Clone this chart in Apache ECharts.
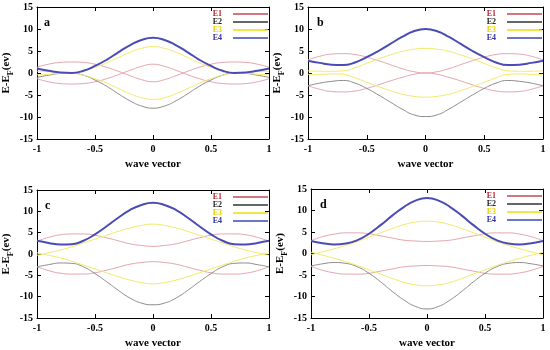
<!DOCTYPE html>
<html>
<head>
<meta charset="utf-8">
<script src="https://cdn.jsdelivr.net/npm/echarts@6/dist/echarts.min.js"></script>
<style>html,body{margin:0;padding:0;background:#fff}#c{width:550px;height:350px}</style>
</head>
<body>
<div id="c"></div>
<script>
// wave vector sample points
var kValues = [-1,-0.9,-0.8,-0.7,-0.6,-0.5,-0.4,-0.3,-0.2,-0.1,0,0.1,0.2,0.3,0.4,0.5,0.6,0.7,0.8,0.9,1];
var xTicks = ['-1','-0.5','0','0.5','1'];
var yTicks = ['-15','-10','-5','0','5','10','15'];
var panelLabels = ['a','b','c','d'];
var bandNames = ['E1','E2','E3','E4'];

// Panel a
var aE1p = [1.3,2.0,2.4,2.5,2.4,2.0,1.3,0.4,-0.6,-1.5,-2.0,-1.5,-0.6,0.4,1.3,2.0,2.4,2.5,2.4,2.0,1.3];
var aE1n = [-1.3,-2.0,-2.4,-2.5,-2.4,-2.0,-1.3,-0.4,0.6,1.5,2.0,1.5,0.6,-0.4,-1.3,-2.0,-2.4,-2.5,-2.4,-2.0,-1.3];
var aE2 = [-1.0,-0.5,-0.1,0.0,-0.5,-1.6,-3.0,-4.7,-6.3,-7.5,-8.0,-7.5,-6.3,-4.7,-3.0,-1.6,-0.5,0.0,-0.1,-0.5,-1.0];
var aE3p = [0.4,0.3,0.1,0.1,0.5,1.3,2.3,3.5,4.7,5.6,6.0,5.6,4.7,3.5,2.3,1.3,0.5,0.1,0.1,0.3,0.4];
var aE3n = [-0.4,-0.3,-0.1,-0.1,-0.5,-1.3,-2.3,-3.5,-4.7,-5.6,-6.0,-5.6,-4.7,-3.5,-2.3,-1.3,-0.5,-0.1,-0.1,-0.3,-0.4];
var aE4 = [1.0,0.5,0.1,0.0,0.5,1.6,3.0,4.7,6.3,7.5,8.0,7.5,6.3,4.7,3.0,1.6,0.5,0.0,0.1,0.5,1.0];

// Panel b
var bE1p = [3.0,3.8,4.3,4.4,4.2,3.6,2.8,1.9,1.0,0.3,0.0,0.3,1.0,1.9,2.8,3.6,4.2,4.4,4.3,3.8,3.0];
var bE1n = [-2.9,-3.7,-4.2,-4.3,-4.1,-3.5,-2.7,-1.8,-1.0,-0.3,0.0,-0.3,-1.0,-1.8,-2.7,-3.5,-4.1,-4.3,-4.2,-3.7,-2.9];
var bE2 = [-2.9,-2.3,-1.9,-1.7,-2.3,-3.5,-5.0,-6.6,-8.2,-9.5,-9.9,-9.5,-8.2,-6.6,-5.0,-3.5,-2.3,-1.7,-1.9,-2.3,-2.9];
var bE3p = [0.5,0.4,0.4,0.5,1.2,2.2,3.2,4.1,4.9,5.4,5.6,5.4,4.9,4.1,3.2,2.2,1.2,0.5,0.4,0.4,0.5];
var bE3n = [-0.3,-0.3,-0.2,-0.3,-1.1,-2.1,-3.1,-4.0,-4.8,-5.3,-5.5,-5.3,-4.8,-4.0,-3.1,-2.1,-1.1,-0.3,-0.2,-0.3,-0.3];
var bE4 = [2.8,2.3,1.9,1.8,2.4,3.6,5.0,6.6,8.2,9.5,10.0,9.5,8.2,6.6,5.0,3.6,2.4,1.8,1.9,2.3,2.8];

// Panel c
var cE1p = [3.0,3.9,4.5,4.7,4.7,4.4,3.8,3.1,2.4,2.0,1.8,2.0,2.4,3.1,3.8,4.4,4.7,4.7,4.5,3.9,3.0];
var cE1n = [-3.0,-3.9,-4.5,-4.7,-4.7,-4.4,-3.8,-3.1,-2.4,-2.0,-1.8,-2.0,-2.4,-3.1,-3.8,-4.4,-4.7,-4.7,-4.5,-3.9,-3.0];
var cE2 = [-3.0,-2.5,-2.1,-2.2,-3.0,-4.6,-6.5,-8.5,-10.3,-11.5,-11.9,-11.5,-10.3,-8.5,-6.5,-4.6,-3.0,-2.2,-2.1,-2.5,-3.0];
var cE3p = [-0.3,0.3,0.9,1.7,2.6,3.5,4.4,5.3,6.1,6.7,7.0,6.7,6.1,5.3,4.4,3.5,2.6,1.7,0.9,0.3,-0.3];
var cE3n = [0.3,-0.3,-0.9,-1.7,-2.6,-3.5,-4.4,-5.3,-6.1,-6.7,-7.0,-6.7,-6.1,-5.3,-4.4,-3.5,-2.6,-1.7,-0.9,-0.3,0.3];
var cE4 = [3.1,2.6,2.2,2.3,3.1,4.6,6.5,8.5,10.3,11.5,12.0,11.5,10.3,8.5,6.5,4.6,3.1,2.3,2.2,2.6,3.1];

// Panel d
var dE1p = [3.0,3.9,4.5,4.8,4.8,4.6,4.1,3.6,3.1,2.9,2.8,2.9,3.1,3.6,4.1,4.6,4.8,4.8,4.5,3.9,3.0];
var dE1n = [-3.0,-3.9,-4.5,-4.8,-4.8,-4.6,-4.1,-3.6,-3.1,-2.9,-2.8,-2.9,-3.1,-3.6,-4.1,-4.6,-4.8,-4.8,-4.5,-3.9,-3.0];
var dE2 = [-2.9,-2.4,-2.1,-2.3,-3.1,-4.6,-6.6,-8.8,-10.8,-12.3,-12.9,-12.3,-10.8,-8.8,-6.6,-4.6,-3.1,-2.3,-2.1,-2.4,-2.9];
var dE3p = [-0.3,0.4,1.1,1.9,2.8,3.8,4.8,5.8,6.7,7.3,7.5,7.3,6.7,5.8,4.8,3.8,2.8,1.9,1.1,0.4,-0.3];
var dE3n = [0.3,-0.4,-1.1,-1.9,-2.8,-3.8,-4.8,-5.8,-6.7,-7.3,-7.5,-7.3,-6.7,-5.8,-4.8,-3.8,-2.8,-1.9,-1.1,-0.4,0.3];
var dE4 = [2.9,2.4,2.1,2.3,3.1,4.6,6.6,8.8,10.8,12.3,12.9,12.3,10.8,8.8,6.6,4.6,3.1,2.3,2.1,2.4,2.9];

var panels = [
  {E1: [aE1p, aE1n], E2: [aE2], E3: [aE3p, aE3n], E4: [aE4]},
  {E1: [bE1p, bE1n], E2: [bE2], E3: [bE3p, bE3n], E4: [bE4]},
  {E1: [cE1p, cE1n], E2: [cE2], E3: [cE3p, cE3n], E4: [cE4]},
  {E1: [dE1p, dE1n], E2: [dE2], E3: [dE3p, dE3n], E4: [dE4]}
];

var grids = [
  {left: 35, top: 7, width: 234, height: 132},
  {left: 308, top: 7, width: 235, height: 132},
  {left: 36, top: 190, width: 233, height: 131},
  {left: 311, top: 189, width: 232, height: 131}
];

var lineColors = {E1: '#e4a6ae', E2: '#8c8c8c', E3: '#f2ea6a', E4: '#4a4cb4'};
var lineWidths = {E1: 1, E2: 1, E3: 1, E4: 2};
var legendColors = {E1: '#c04a58', E2: '#333333', E3: '#eedc10', E4: '#3d48b0'};
var legendTextColors = {E1: '#b02830', E2: '#222222', E3: '#e8d000', E4: '#3030a0'};
var font = 'Liberation Serif, DejaVu Serif, serif';

var option = {
  animation: false,
  backgroundColor: '#ffffff',
  grid: [], xAxis: [], yAxis: [], series: [], legend: [], title: []
};

grids.forEach(function (g, i) {
  option.grid.push(g);
  // bottom axis
  option.xAxis.push({
    type: 'value', gridIndex: i, min: -1, max: 1, interval: 0.5, position: 'bottom',
    name: 'wave vector', nameLocation: 'middle', nameGap: 20,
    nameTextStyle: {fontFamily: font, fontWeight: 'bold', fontSize: 11, color: '#000'},
    axisLine: {show: true, onZero: false, lineStyle: {color: '#000', width: 1}},
    axisTick: {show: true, inside: true, length: 4, lineStyle: {color: '#000'}},
    axisLabel: {fontFamily: font, fontWeight: 'bold', fontSize: 10, color: '#000', margin: 5,
      formatter: function (v) { var s = String(Math.round(v * 10) / 10); return xTicks.indexOf(s) >= 0 ? s : ''; }},
    splitLine: {show: false}
  });
  // top axis (frame)
  option.xAxis.push({
    type: 'value', gridIndex: i, min: -1, max: 1, interval: 0.5, position: 'top',
    axisLine: {show: true, onZero: false, lineStyle: {color: '#000', width: 1}},
    axisTick: {show: true, inside: true, length: 4, lineStyle: {color: '#000'}},
    axisLabel: {show: false}, splitLine: {show: false}
  });
  // left axis
  option.yAxis.push({
    type: 'value', gridIndex: i, min: -15, max: 15, interval: 5, position: 'left',
    name: 'E-E{sub|F}(ev)', nameLocation: 'middle', nameGap: 22, nameRotate: 90,
    nameTextStyle: {fontFamily: font, fontWeight: 'bold', fontSize: 11, color: '#000',
      rich: {sub: {fontFamily: font, fontWeight: 'bold', fontSize: 8, color: '#000', padding: [9, 0, 0, 0]}}},
    axisLine: {show: true, onZero: false, lineStyle: {color: '#000', width: 1}},
    axisTick: {show: true, inside: true, length: 4, lineStyle: {color: '#000'}},
    axisLabel: {fontFamily: font, fontWeight: 'bold', fontSize: 10, color: '#000', margin: 4,
      formatter: function (v) { var s = String(v); return yTicks.indexOf(s) >= 0 ? s : ''; }},
    splitLine: {show: false}
  });
  // right axis (frame)
  option.yAxis.push({
    type: 'value', gridIndex: i, min: -15, max: 15, interval: 5, position: 'right',
    axisLine: {show: true, onZero: false, lineStyle: {color: '#000', width: 1}},
    axisTick: {show: true, inside: true, length: 4, lineStyle: {color: '#000'}},
    axisLabel: {show: false}, splitLine: {show: false}
  });

  var order = ['E1', 'E2', 'E3', 'E4'];
  order.forEach(function (band) {
    panels[i][band].forEach(function (arr) {
      option.series.push({
        type: 'line', name: band, xAxisIndex: 2 * i, yAxisIndex: 2 * i,
        data: kValues.map(function (k, j) { return [k, arr[j]]; }),
        smooth: 0.5, showSymbol: false, symbol: 'none',
        lineStyle: {color: lineColors[band], width: lineWidths[band]},
        itemStyle: {color: lineColors[band]},
        z: band === 'E4' ? 5 : 3
      });
    });
  });

  option.title.push({
    text: panelLabels[i], left: g.left + 4, top: g.top + 5,
    textStyle: {fontFamily: font, fontWeight: 'bold', fontSize: 12, color: '#000'}
  });

  option.legend.push({
    orient: 'vertical', align: 'right',
    right: 550 - (g.left + g.width) + 1, top: g.top + 3,
    itemWidth: 35, itemHeight: 6, itemGap: 0, padding: 0,
    textStyle: {fontFamily: font, fontWeight: 'bold', fontSize: 8, lineHeight: 6},
    selectedMode: false,
    data: bandNames.map(function (n) {
      return {name: n, icon: 'path://M0,0 L35,0 L35,1.6 L0,1.6 Z',
        itemStyle: {color: legendColors[n]},
        textStyle: {color: legendTextColors[n], fontFamily: font, fontWeight: 'bold', fontSize: 8, lineHeight: 6, padding: [0, 6, 0, 0]}};
    })
  });
});

var chart = echarts.init(document.getElementById('c'), null, {renderer: 'canvas'});
chart.setOption(option);
</script>
</body>
</html>
